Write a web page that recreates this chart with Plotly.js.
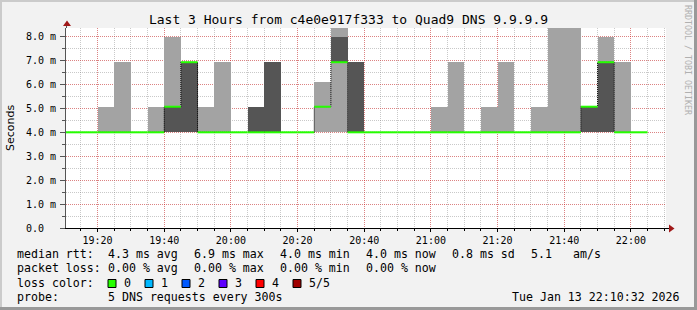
<!DOCTYPE html>
<html><head><meta charset="utf-8">
<script src="https://cdn.plot.ly/plotly-3.0.1.min.js"></script>
<style>html,body{margin:0;padding:0;background:#f2f2f2;}#chart{width:697px;height:310px;}</style>
</head><body><div id="chart"></div>
<script>
// ---- data ----
const chartTitle = 'Last 3 Hours from c4e0e917f333 to Quad9 DNS 9.9.9.9';
const intervalStarts = ['19:10','19:15','19:20','19:25','19:30','19:35','19:40','19:45','19:50','19:55',
  '20:00','20:05','20:10','20:15','20:20','20:25','20:30','20:35','20:40','20:45',
  '20:50','20:55','21:00','21:05','21:10','21:15','21:20','21:25','21:30','21:35',
  '21:40','21:45','21:50','21:55','22:00'];
// sorted pings per 5-minute step (ms)
const ping1 = [4,4,4,4,4,4,4,4,4,4, 4,4,4,4,4,4,4,4,4,4, 4,4,4,4,4,4,4,4,4,4, 4,4,4,4,4];
const ping2 = [4,4,4,4,4,4,4,4,4,4, 4,4,4,4,4,5.07,6.93,4,4,4, 4,4,4,4,4,4,4,4,4,4, 4,4,4,4,4];
const medianRtt = [4,4,4,4,4,4,5.07,6.93,4,4, 4,4,4,4,4,5.07,6.93,4,4,4, 4,4,4,4,4,4,4,4,4,4, 4,5.07,6.93,4,4];
const ping4 = [4,4,4,4,4,4,5.07,6.93,4,4, 4,5.07,6.93,4,4,5.07,8.0,6.93,4,4, 4,4,4,4,4,4,4,4,4,4, 4,5.07,6.93,4,4];
const ping5 = [4,4,5.07,6.93,4,5.07,8.0,6.93,5.07,6.93, 4,5.07,6.93,4,4,6.12,9.0,6.93,4,4, 4,4,5.07,6.93,4,5.07,6.93,4,5.07,9.0, 9.0,5.07,8.0,6.93,4];
const xTickTimes = ['19:20','19:40','20:00','20:20','20:40','21:00','21:20','21:40','22:00'];
const yTickVals = [0,1,2,3,4,5,6,7,8];
const yTickText = ['0.0\u00a0\u00a0','1.0 m','2.0 m','3.0 m','4.0 m','5.0 m','6.0 m','7.0 m','8.0 m'];
const statsRtt = ['median rtt:','4.3 ms avg','6.9 ms max','4.0 ms min','4.0 ms now','0.8 ms sd','5.1','am/s'];
const statsLoss = ['packet loss:','0.00 % avg','0.00 % max','0.00 % min','0.00 % now'];
const lossLabels = ['0','1','2','3','4','5/5'];
const lossColors = ['#26ff00','#00b8ff','#0059ff','#5e00ff','#ff0000','#a00000'];
const probeText = ['probe:','5 DNS requests every 300s'];
const stampText = 'Tue Jan 13 22:10:32 2026';
const rangeStart = [19,10,32], rangeEnd = [22,10,32];

// ---- helpers ----
const STEP = 5*60*1000;
function ms(hhmm, s){ const [h,m]=hhmm.split(':').map(Number); return Date.UTC(2026,0,13,h,m,s||0); }
const xs = intervalStarts.map(t=>ms(t));
const L=66, T=28, W=600, H=200;
const px = x => (x-L)/W;
const py = y => (T+H-y)/H;

const traces = [];
traces.push({type:'bar', x:xs, base:ping1, y:ping5.map((v,i)=>v-ping1[i]), width:STEP, offset:0,
  marker:{color:'#a3a3a3', line:{width:0}}, hoverinfo:'skip'});
traces.push({type:'bar', x:xs, base:ping2, y:ping4.map((v,i)=>v-ping2[i]), width:STEP, offset:0,
  marker:{color:'#555555', line:{width:0}}, hoverinfo:'skip'});
traces.push({type:'scatter', mode:'lines', x:xs.concat([xs[xs.length-1]+STEP]),
  y:medianRtt.concat([medianRtt[medianRtt.length-1]]), line:{shape:'hv', color:'#000', width:1, dash:'1px,1px'}, hoverinfo:'skip'});
const gx=[], gy=[];
xs.forEach((x,i)=>{ gx.push(x, x+STEP, null); gy.push(medianRtt[i], medianRtt[i], null); });
traces.push({type:'scatter', mode:'lines', x:gx, y:gy, connectgaps:false, line:{color:lossColors[0], width:2}, hoverinfo:'skip'});

const mono = 'DejaVu Sans Mono';
const ann = [];
function txt(text, x, y, opts){ ann.push(Object.assign({text, xref:'paper', yref:'paper', x:px(x), y:py(y), xanchor:'left', yanchor:'middle', showarrow:false, borderpad:0,
  font:{family:mono, size:11.6, color:'#000'}}, opts||{})); }
const rttX = [16,107,192.5,279,365,451,530,572];
statsRtt.forEach((t,i)=>txt(t, rttX[i], 253.5));
const lossX = [16,107,192.5,279,365];
statsLoss.forEach((t,i)=>txt(t, lossX[i], 268));
txt('loss color:', 16, 283);
const boxX = [108,145,182,219,256,293];
const shapes = [];
lossLabels.forEach((t,i)=>{
  txt(t, boxX[i]+15, 283);
  shapes.push({type:'rect', xref:'paper', yref:'paper', x0:px(boxX[i]), x1:px(boxX[i]+8), y0:py(287.5), y1:py(279.5),
    fillcolor:lossColors[i], line:{color:'#000', width:1}, layer:'above'});
});
txt(probeText[0], 16, 297);
txt(probeText[1], 107, 297);
txt(stampText, 681, 297, {xanchor:'right'});
ann.push({text:'Seconds', xref:'paper', yref:'paper', x:px(10), y:py(128), xanchor:'center', yanchor:'middle', textangle:-90, showarrow:false,
  font:{family:'DejaVu Sans', size:11, color:'#000'}});
ann.push({text:'RRDTOOL / TOBI OETIKER', xref:'paper', yref:'paper', x:px(688), y:py(60), xanchor:'center', yanchor:'middle', textangle:90, showarrow:false,
  font:{family:mono, size:8.3, color:'#b0b0b0'}});

// arrows and axis extensions
const arrowC = '#a01818';
shapes.push({type:'line', xref:'paper', yref:'paper', x0:px(66.5), x1:px(66.5), y0:py(28), y1:py(24), line:{color:'#555', width:1}});
shapes.push({type:'line', xref:'paper', yref:'paper', x0:px(666), x1:px(670), y0:py(228.5), y1:py(228.5), line:{color:'#000', width:1}});
shapes.push({type:'path', xref:'paper', yref:'paper', path:`M ${px(67)},${py(20.5)} L ${px(63)},${py(26)} L ${px(71)},${py(26)} Z`, fillcolor:arrowC, line:{width:0}});
shapes.push({type:'path', xref:'paper', yref:'paper', path:`M ${px(674.5)},${py(228.5)} L ${px(669)},${py(224.5)} L ${px(669)},${py(232.5)} Z`, fillcolor:arrowC, line:{width:0}});
// frame
shapes.push({type:'rect', xref:'paper', yref:'paper', x0:px(0), x1:px(697), y0:py(0), y1:py(2), fillcolor:'#cbcbcb', line:{width:0}});
shapes.push({type:'rect', xref:'paper', yref:'paper', x0:px(0), x1:px(2), y0:py(0), y1:py(310), fillcolor:'#cbcbcb', line:{width:0}});
shapes.push({type:'rect', xref:'paper', yref:'paper', x0:px(694), x1:px(697), y0:py(0), y1:py(310), fillcolor:'#999999', line:{width:0}});
shapes.push({type:'rect', xref:'paper', yref:'paper', x0:px(0), x1:px(697), y0:py(307), y1:py(310), fillcolor:'#999999', line:{width:0}});

const gridMajor = 'rgba(255,0,0,0.35)', gridMinor = 'rgba(120,120,120,0.4)';
const layout = {
  width:697, height:310, margin:{l:L, r:697-L-W, t:T, b:310-T-H, pad:0},
  paper_bgcolor:'#f2f2f2', plot_bgcolor:'#ffffff', showlegend:false,
  barmode:'overlay', bargap:0,
  title:{text:chartTitle, font:{family:mono, size:13, color:'#000'}, x:0.5, xref:'container', xanchor:'center', y:1-19/310, yref:'container', yanchor:'middle'},
  xaxis:{type:'date', range:[ms('19:10', rangeStart[2]), ms('22:10', rangeEnd[2])], tickvals:xTickTimes.map(t=>ms(t)), ticktext:xTickTimes,
    tickfont:{family:mono, size:10, color:'#000'}, showgrid:true, gridcolor:gridMajor, griddash:'1px,1px', gridwidth:1,
    showline:true, linecolor:'#000', linewidth:1, ticks:'outside', ticklen:3, tickcolor:'#000', zeroline:false, fixedrange:true,
    minor:{dtick:STEP, tick0:ms('19:10'), showgrid:true, gridcolor:gridMinor, griddash:'1px,1px', gridwidth:1, ticks:'outside', ticklen:2, tickcolor:'#000'}},
  yaxis:{range:[0,8.36], tickvals:yTickVals, ticktext:yTickText, tickfont:{family:mono, size:10, color:'#000'},
    showgrid:true, gridcolor:gridMajor, griddash:'1px,1px', gridwidth:1, showline:true, linecolor:'#555', linewidth:1,
    ticks:'outside', ticklen:5, tickcolor:'#555', ticklabelstandoff:2, zeroline:false, fixedrange:true,
    minor:{dtick:0.5, showgrid:true, gridcolor:gridMinor, griddash:'1px,1px', gridwidth:1, ticks:'outside', ticklen:3, tickcolor:'#555'}},
  annotations:ann, shapes:shapes
};
Plotly.newPlot('chart', traces, layout, {staticPlot:true, displayModeBar:false});
</script></body></html>
